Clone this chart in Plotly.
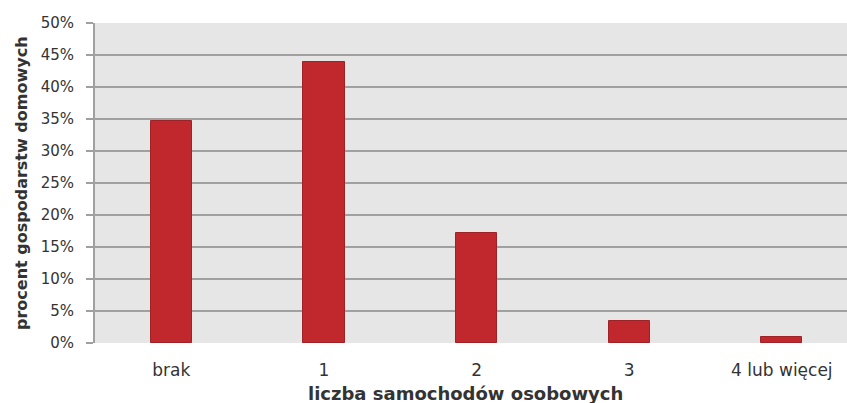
import plotly.graph_objects as go

categories = ["brak", "1", "2", "3", "4 lub więcej"]
values = [34.7, 43.9, 17.2, 3.4, 0.9]
y_ticks = [0, 5, 10, 15, 20, 25, 30, 35, 40, 45, 50]
y_tick_labels = [f"{v}%" for v in y_ticks]

FONT = "DejaVu Sans"
TXT = "#333333"

fig = go.Figure(
    go.Bar(
        x=list(range(len(categories))),
        y=values,
        width=0.27,
        marker=dict(color="#c1282d", line=dict(color="#9e2226", width=1)),
    )
)

fig.update_layout(
    width=847,
    height=403,
    margin=dict(l=95, r=0, t=23, b=60),
    paper_bgcolor="white",
    plot_bgcolor="#e6e6e6",
    showlegend=False,
    font=dict(family=FONT, size=14, color=TXT),
    bargap=0,
    annotations=[
        dict(text="<b>liczba samochodów osobowych</b>", xref="paper", yref="paper",
             x=(465 - 95) / 752, y=-50 / 320, xanchor="center", yanchor="middle",
             showarrow=False, font=dict(family=FONT, size=18, color=TXT)),
        dict(text="<b>procent gospodarstw domowych</b>", xref="paper", yref="paper",
             x=-(95 - 21) / 752, y=(343 - 183) / 320, xanchor="center", yanchor="middle",
             textangle=-90, showarrow=False, font=dict(family=FONT, size=16, color=TXT)),
    ],
)

fig.update_xaxes(
    automargin=False,
    range=[-0.5, 4.427],
    tickmode="array",
    tickvals=list(range(len(categories))),
    ticktext=categories,
    showgrid=False,
    showline=False,
    ticks="",
    zeroline=False,
    ticklabelstandoff=15,
    tickfont=dict(family=FONT, size=17, color=TXT),
)

fig.update_yaxes(
    automargin=False,
    range=[0, 50],
    tickmode="array",
    tickvals=y_ticks,
    ticktext=y_tick_labels,
    showgrid=True,
    gridcolor="#a0a0a0",
    gridwidth=1.5,
    showline=True,
    linecolor="#a0a0a0",
    linewidth=2,
    ticks="outside",
    ticklen=7,
    tickcolor="#a0a0a0",
    tickwidth=1.5,
    zeroline=False,
    ticklabelstandoff=9,
    tickfont=dict(family=FONT, size=15, color=TXT),
)

fig.write_html(
    "out.html",
    config={"displayModeBar": False},
    post_script="document.body.style.margin='0';document.body.style.overflow='hidden';",
)
